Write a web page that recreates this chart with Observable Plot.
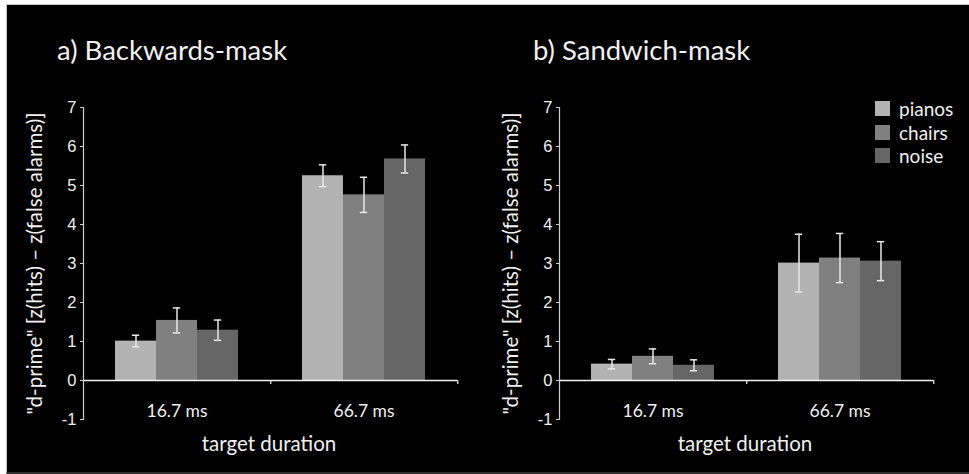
<!DOCTYPE html>
<html>
<head>
<meta charset="utf-8">
<script src="https://cdn.jsdelivr.net/npm/d3@7"></script>
<script src="https://cdn.jsdelivr.net/npm/@observablehq/plot@0.6"></script>
<style>
  html, body { margin: 0; padding: 0; background: #fff; }
  #figure { position: relative; width: 969px; height: 474px; overflow: hidden; }
  #backdrop {
    position: absolute; left: 6px; top: 4px; right: 0; bottom: 0;
    background: #000;
    border-top: 1px solid #c8c8c8; border-left: 1px solid #c8c8c8; border-bottom: 2px solid #2e2e2e;
  }
  .panel { position: absolute; top: 0; }
  .panel svg { display: block; }
  .title {
    position: absolute; top: 33px; color: #f0f0f0;
    font: 27.5px Lato, sans-serif; white-space: nowrap;
  }
  .xlabel {
    position: absolute; top: 431px; width: 374px; text-align: center; color: #f0f0f0;
    font: 20.5px Lato, sans-serif;
  }
  .legend { position: absolute; left: 875px; top: 97px; color: #f0f0f0; font: 19px Lato, sans-serif; }
  .legend div { display: flex; align-items: center; height: 23.5px; line-height: 23.5px; }
  .legend span.sw { width: 15px; height: 15px; margin-right: 9px; display: inline-block; }
  g[aria-label="y-axis label"] text { font-family: Lato, sans-serif; font-size: 20.5px; }
  g[aria-label="fx-axis tick label"] text { font-family: Lato, sans-serif; font-size: 17.5px; }
</style>
</head>
<body>
<div id="figure">
  <div id="backdrop"></div>
</div>
<script>
// Mean d′ per target duration (outer) and mask-content condition (inner), with ± error
const durations = ["16.7 ms", "66.7 ms"];
const conditions = ["pianos", "chairs", "noise"];
const conditionColors = ["#b3b3b3", "#808080", "#666666"];

const backwardsMean = [1.01, 1.54, 1.29, 5.25, 4.76, 5.68];
const backwardsErr  = [0.15, 0.32, 0.26, 0.28, 0.45, 0.36];

const sandwichMean = [0.42, 0.62, 0.39, 3.01, 3.14, 3.06];
const sandwichErr  = [0.12, 0.19, 0.14, 0.74, 0.63, 0.50];

const yTicks = [-1, 0, 1, 2, 3, 4, 5, 6, 7];
const yLabel = "\"d-prime\" [z(hits) \u2013 z(false alarms)]";
const titles = ["a) Backwards-mask", "b) Sandwich-mask"];

const W = 476, H = 474;
const mL = 82, mR = 19, mT = 107, mB = 55;
const unitPx = (H - mT - mB) / (yTicks.length - 1);
const facetW = (W - mL - mR) / durations.length;
const capInset = (facetW / (conditions.length + 1.5) - 8) / 2;

function panel(means, errs) {
  const rows = means.map((m, i) => ({
    duration: durations[Math.floor(i / conditions.length)],
    condition: conditions[i % conditions.length],
    mean: m,
    lo: m - errs[i],
    hi: m + errs[i]
  }));
  return Plot.plot({
    width: W, height: H,
    marginLeft: mL, marginRight: mR, marginTop: mT, marginBottom: mB,
    style: {background: "transparent", color: "#f0f0f0", fontFamily: "'Liberation Sans', Arial, sans-serif", overflow: "visible"},
    fx: {domain: durations, padding: 0},
    x: {domain: conditions, paddingInner: 0, paddingOuter: 0.75, axis: null},
    y: {domain: [-1, 7]},
    color: {domain: conditions, range: conditionColors},
    marks: [
      Plot.barY(rows, {fx: "duration", x: "condition", y: "mean", fill: "condition", inset: 0}),
      Plot.ruleY([0], {stroke: "#f4f4f4", strokeWidth: 1.5}),
      Plot.ruleX(rows, {fx: "duration", x: "condition", y1: "lo", y2: "hi", stroke: "#e8e8e8", strokeWidth: 1.5}),
      Plot.tickY(rows, {fx: "duration", x: "condition", y: "lo", stroke: "#e8e8e8", strokeWidth: 1.5, insetLeft: capInset, insetRight: capInset}),
      Plot.tickY(rows, {fx: "duration", x: "condition", y: "hi", stroke: "#e8e8e8", strokeWidth: 1.5, insetLeft: capInset, insetRight: capInset}),
      Plot.frame({anchor: "left", facetAnchor: "left", stroke: "#cfcfcf", strokeWidth: 1.2}),
      Plot.axisY({
        ticks: yTicks, tickFormat: (d) => String(d), tickSize: 3, tickPadding: 4,
        stroke: "#cfcfcf", fontSize: 16.5,
        label: yLabel, labelAnchor: "center", labelArrow: "none", labelOffset: 56
      }),
      Plot.axisFx({anchor: "bottom", tickSize: 0, dy: -24, label: null}),
      Plot.axisFx({anchor: "bottom", text: null, tickSize: 4, dx: facetW / 2, dy: -unitPx, stroke: "#f4f4f4", strokeWidth: 1.2, label: null})
    ]
  });
}

const fig = document.getElementById("figure");
[[backwardsMean, backwardsErr], [sandwichMean, sandwichErr]].forEach(([m, e], k) => {
  const left = k * W;
  const holder = document.createElement("div");
  holder.className = "panel";
  holder.style.left = left + "px";
  holder.appendChild(panel(m, e));
  fig.appendChild(holder);

  const t = document.createElement("div");
  t.className = "title";
  t.style.left = (left + 57) + "px";
  t.textContent = titles[k];
  fig.appendChild(t);

  const xl = document.createElement("div");
  xl.className = "xlabel";
  xl.style.left = (left + mL) + "px";
  xl.textContent = "target duration";
  fig.appendChild(xl);
});

// Condition legend in the right-hand panel
const legend = document.createElement("div");
legend.className = "legend";
conditions.forEach((c, i) => {
  const row = document.createElement("div");
  const sw = document.createElement("span");
  sw.className = "sw";
  sw.style.background = conditionColors[i];
  row.appendChild(sw);
  row.appendChild(document.createTextNode(c));
  legend.appendChild(row);
});
fig.appendChild(legend);
</script>
</body>
</html>
